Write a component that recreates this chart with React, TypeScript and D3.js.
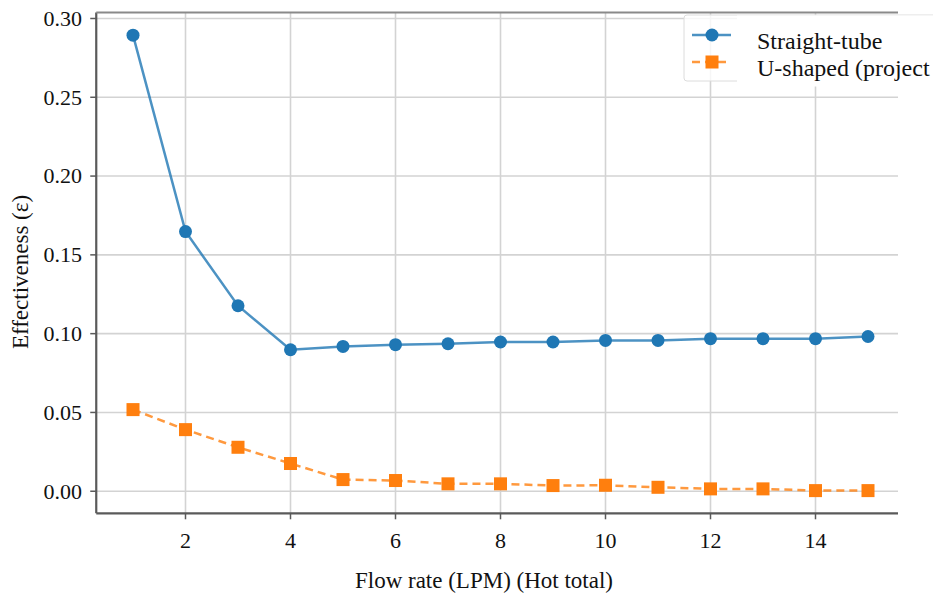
import React from "react";
import * as d3 from "d3";

const flowRates = [1, 2, 3, 4, 5, 6, 7, 8, 9, 10, 11, 12, 13, 14, 15];
const straightTube = [0.2894, 0.1648, 0.1177, 0.0898, 0.0919, 0.093, 0.0936, 0.0947, 0.0947, 0.0957, 0.0957, 0.0968, 0.0968, 0.0968, 0.0982];
const uShaped = [0.0518, 0.0391, 0.0279, 0.0176, 0.0074, 0.0068, 0.0047, 0.0047, 0.0036, 0.0038, 0.0025, 0.0015, 0.0015, 0.0004, 0.0004];
const xTicks = [2, 4, 6, 8, 10, 12, 14];
const yTicks = [0.0, 0.05, 0.1, 0.15, 0.2, 0.25, 0.3];
const seriesNames = ["Straight-tube", "U-shaped (project"];

const W = 933;
const H = 598;
const left = 96.25;
const right = 904.75;
const clipRight = 898;
const top = 12.5;
const bottom = 513.3;
const FONT = "'Liberation Serif', 'Times New Roman', serif";
const BLUE = "#1f77b4";
const ORANGE = "#ff7f0e";

export default function App() {
  const x = d3.scaleLinear().domain([0.3, 15.7]).range([left, right]);
  const y = d3.scaleLinear().domain([-0.014, 0.3038]).range([bottom, top]);
  const line = d3
    .line<number>()
    .x((_, i) => x(flowRates[i]))
    .y((d) => y(d));

  return (
    <svg width={W} height={H} style={{ position: "absolute", left: 0, top: 0, background: "#fff" }}>
      <defs>
        <clipPath id="plot">
          <rect x={left} y={top - 2} width={clipRight - left} height={bottom - top + 4} />
        </clipPath>
      </defs>
      <rect x={0} y={0} width={W} height={H} fill="#fff" />
      <g clipPath="url(#plot)">
        {xTicks.map((t) => (
          <line key={"gx" + t} x1={x(t)} x2={x(t)} y1={top} y2={bottom} stroke="#d3d3d3" strokeWidth={1.6} />
        ))}
        {yTicks.map((t) => (
          <line key={"gy" + t} x1={left} x2={clipRight} y1={y(t)} y2={y(t)} stroke="#d3d3d3" strokeWidth={1.6} />
        ))}
      </g>
      {/* spines */}
      <line x1={left} x2={left} y1={top} y2={bottom} stroke="#5a5a5a" strokeWidth={2.2} />
      <line x1={left} x2={clipRight} y1={bottom} y2={bottom} stroke="#5a5a5a" strokeWidth={2.2} />
      <line x1={left} x2={clipRight} y1={top} y2={top} stroke="#8a8a8a" strokeWidth={2} />
      {/* ticks */}
      {xTicks.map((t) => (
        <g key={"tx" + t}>
          <line x1={x(t)} x2={x(t)} y1={bottom} y2={bottom + 6} stroke="#5a5a5a" strokeWidth={1.5} />
          <text x={x(t)} y={548} textAnchor="middle" fontFamily={FONT} fontSize={22} fill="#111">
            {t}
          </text>
        </g>
      ))}
      {yTicks.map((t) => (
        <g key={"ty" + t}>
          <line x1={left - 6} x2={left} y1={y(t)} y2={y(t)} stroke="#5a5a5a" strokeWidth={1.5} />
          <text x={82} y={y(t) + 7.4} textAnchor="end" fontFamily={FONT} fontSize={22} fill="#111">
            {t.toFixed(2)}
          </text>
        </g>
      ))}
      {/* series */}
      <path d={line(straightTube) || ""} fill="none" stroke={BLUE} strokeWidth={2.5} strokeOpacity={0.8} />
      {straightTube.map((v, i) => (
        <circle key={"b" + i} cx={x(flowRates[i])} cy={y(v)} r={6.5} fill={BLUE} />
      ))}
      <path d={line(uShaped) || ""} fill="none" stroke={ORANGE} strokeWidth={2.5} strokeOpacity={0.8} strokeDasharray="8,5" />
      {uShaped.map((v, i) => (
        <rect key={"o" + i} x={x(flowRates[i]) - 6.5} y={y(v) - 6.5} width={13} height={13} fill={ORANGE} />
      ))}
      {/* labels */}
      <text x={484} y={588} textAnchor="middle" fontFamily={FONT} fontSize={23} fill="#111">
        Flow rate (LPM) (Hot total)
      </text>
      <text
        transform={`translate(28, 272) rotate(-90)`}
        textAnchor="middle"
        fontFamily={FONT}
        fontSize={23}
        fill="#111"
      >
        Effectiveness (ε)
      </text>
      {/* legend */}
      <rect x={684} y={15} width={260} height={66} rx={3} fill="#fff" fillOpacity={0.8} stroke="#dcdcdc" strokeWidth={1} />
      <rect x={737} y={15.5} width={200} height={71} fill="#fff" />
      <line x1={692} x2={731} y1={35} y2={35} stroke={BLUE} strokeWidth={2.5} strokeOpacity={0.8} />
      <circle cx={712} cy={35} r={6.5} fill={BLUE} />
      <line x1={692} x2={731} y1={62} y2={62} stroke={ORANGE} strokeWidth={2.5} strokeOpacity={0.8} strokeDasharray="8,5" />
      <rect x={705.5} y={55.5} width={13} height={13} fill={ORANGE} />
      <text x={757} y={49} fontFamily={FONT} fontSize={24} fill="#111">
        {seriesNames[0]}
      </text>
      <text x={757} y={76} fontFamily={FONT} fontSize={24} fill="#111">
        {seriesNames[1]}
      </text>
    </svg>
  );
}
